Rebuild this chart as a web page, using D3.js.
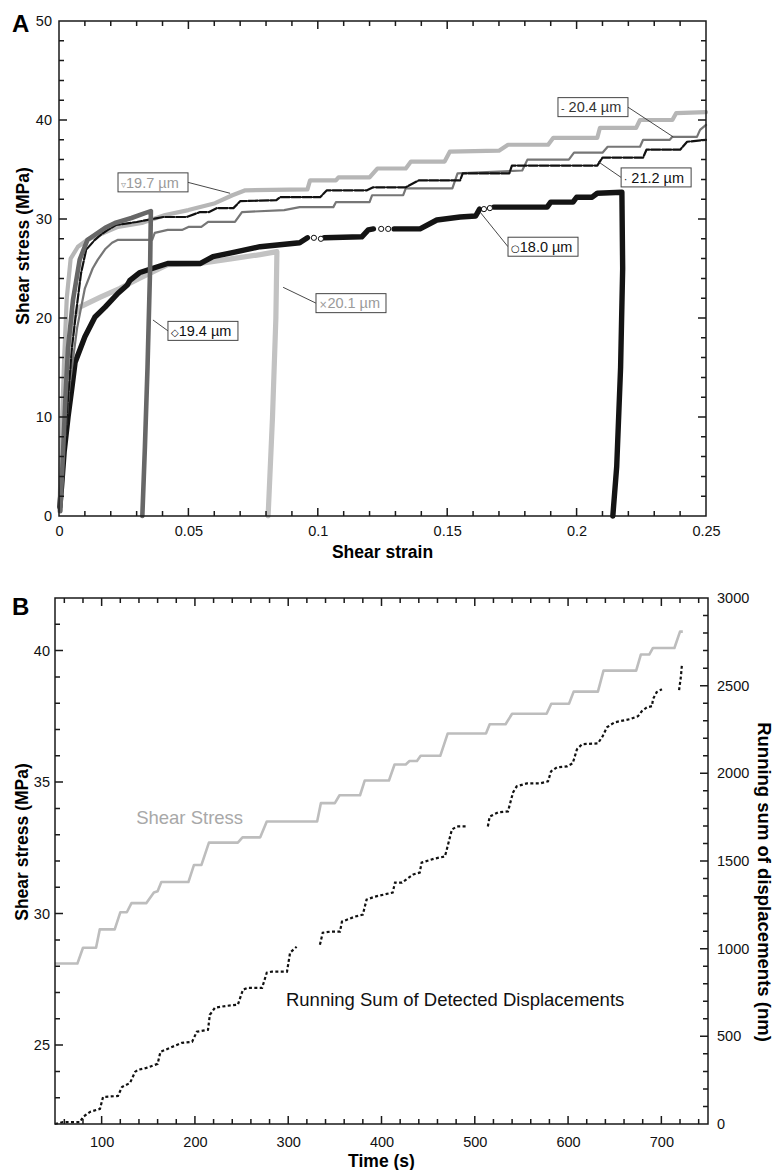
<!DOCTYPE html>
<html>
<head>
<meta charset="utf-8">
<script src="https://cdn.jsdelivr.net/npm/d3@7"></script>
<style>
  body { margin: 0; background: #fff; }
  svg { display: block; font-family: "Liberation Sans", Arial, Helvetica, sans-serif; }
</style>
</head>
<body>
<svg id="chart" width="774" height="1170"></svg>
<script>
// ---------- Panel A : shear stress vs shear strain, one series per grain size ----------
var strainTicks = [0, 0.05, 0.1, 0.15, 0.2, 0.25];
var stressTicksA = [0, 10, 20, 30, 40, 50];

// [strain, stress MPa]; null = gap in the record
var grain180 = [[0.0003,0.9],[0.001,3],[0.002,6.5],[0.0035,10],[0.005,13],[0.0062,15.5],[0.010,18.1],[0.0139,20.1],[0.0178,21.1],[0.0228,22.5],[0.0263,23.3],[0.0274,23.8],[0.0313,24.6],[0.036,25.0],[0.042,25.5],[0.0545,25.5],[0.0595,26.2],[0.067,26.6],[0.0777,27.2],[0.093,27.6],[0.096,28.1],null,[0.1025,28.1],[0.117,28.2],[0.1195,28.9],[0.1215,29.0],null,[0.1295,29.0],[0.1395,29.0],[0.146,29.9],[0.155,30.2],[0.161,30.3],[0.1625,31.0],null,[0.168,31.2],[0.1886,31.2],[0.190,31.7],[0.1986,31.7],[0.200,32.2],[0.206,32.2],[0.208,32.6],[0.2175,32.7],[0.2178,25],[0.217,15],[0.2155,5],[0.214,0]];
var grain180Open = [[0.0985,28.1],[0.1012,28.0],[0.1245,29.0],[0.1272,29.0],[0.1642,31.0],[0.1665,31.1]];
var grain194 = [[0.0005,0.5],[0.0015,6],[0.0025,12],[0.0035,17],[0.0054,21.8],[0.0080,25.9],[0.011,27.9],[0.0178,29.1],[0.0216,29.6],[0.028,30.1],[0.0332,30.6],[0.0355,30.8],[0.0352,25],[0.0342,15],[0.0332,7],[0.0322,0]];
var grain197 = [[0.0003,0.5],[0.001,8],[0.002,16],[0.003,22],[0.0045,26],[0.0073,27.2],[0.011,27.9],[0.0228,29.2],[0.032,29.6],[0.041,30.4],[0.050,30.9],[0.0603,31.6],[0.067,32.4],[0.072,32.9],[0.096,33.0],[0.097,33.9],[0.107,33.9],[0.108,34.2],[0.120,34.2],[0.123,35.1],[0.134,35.1],[0.136,35.8],[0.149,35.8],[0.151,36.8],[0.170,36.9],[0.1735,37.5],[0.189,37.5],[0.191,38.2],[0.208,38.2],[0.209,39.2],[0.223,39.2],[0.2245,40.0],[0.237,40.0],[0.2385,40.7],[0.25,40.8]];
var grain201 = [[0.0003,0.5],[0.001,6],[0.002,12],[0.0035,17],[0.0055,20],[0.008,21.1],[0.016,22.1],[0.0236,23.0],[0.031,24.0],[0.042,25.4],[0.0545,25.5],[0.067,26.0],[0.0777,26.4],[0.0842,26.7],[0.0838,20],[0.0825,10],[0.0808,0]];
var grain204 = [[0.0005,0.5],[0.002,7],[0.004,13],[0.007,19],[0.010,23],[0.013,25],[0.015,25.9],[0.018,27.0],[0.0205,27.6],[0.0228,27.9],[0.036,27.9],[0.037,28.6],[0.042,28.9],[0.0475,28.9],[0.050,29.2],[0.055,29.2],[0.0576,29.7],[0.068,29.7],[0.0707,30.7],[0.087,30.9],[0.093,31.2],[0.106,31.2],[0.107,31.7],[0.120,31.7],[0.121,32.4],[0.133,32.4],[0.134,33.1],[0.152,33.1],[0.154,34.6],[0.179,34.9],[0.181,36.0],[0.197,36.0],[0.199,36.7],[0.210,36.7],[0.212,37.3],[0.2245,37.3],[0.2257,38.0],[0.236,38.0],[0.237,38.3],[0.2465,38.3],[0.2477,39.0],[0.25,39.5]];
var grain212 = [[0.0005,0.5],[0.002,6],[0.0035,12],[0.005,17],[0.0068,21],[0.0085,24.5],[0.0105,26.9],[0.0139,27.9],[0.0166,28.5],[0.0189,28.9],[0.022,29.4],[0.030,29.7],[0.0403,30.2],[0.0493,30.2],[0.0545,30.7],[0.058,30.7],[0.061,31.1],[0.0674,31.1],[0.070,31.8],[0.084,31.9],[0.0854,32.2],[0.1009,32.2],[0.1035,32.9],[0.119,32.9],[0.1214,33.2],[0.134,33.2],[0.139,33.9],[0.155,33.9],[0.156,34.6],[0.174,34.6],[0.175,35.4],[0.208,35.4],[0.210,36.2],[0.2257,36.2],[0.227,37.0],[0.240,37.0],[0.2427,37.8],[0.25,38.0]];

// ---------- Panel B : shear stress and running sum of displacements vs time ----------
var timeTicks = [100, 200, 300, 400, 500, 600, 700];
var stressTicksB = [25, 30, 35, 40];
var sumTicks = [0, 500, 1000, 1500, 2000, 2500, 3000];

// [time s, stress MPa]
var stressHistory = [[50,28.1],[74,28.1],[80,28.7],[94,28.7],[98,29.4],[114,29.4],[120,30.05],[127,30.05],[132,30.4],[148,30.4],[156,30.8],[160,30.85],[164,31.2],[193,31.2],[199,31.85],[207,31.85],[215,32.7],[246,32.7],[251,32.9],[270,32.9],[277,33.5],[331,33.5],[335,34.2],[350,34.2],[355,34.5],[377,34.5],[382,35.06],[408,35.06],[414,35.67],[426,35.67],[430,35.8],[438,35.8],[442,36.0],[463,36.0],[471,36.85],[512,36.85],[516,37.2],[533,37.2],[540,37.6],[577,37.6],[582,37.98],[601,37.98],[606,38.44],[632,38.44],[638,39.24],[673,39.24],[678,39.85],[687,39.85],[691,40.1],[714,40.1],[720,40.72],[723,40.72]];

// [time s, running sum nm]; null = no detections
var runningSum = [[50,0],[58.6,11],[76.8,11],[80,40],[87.5,69],[98.2,86],[101.5,154],[117.5,160],[121.8,211],[130.4,234],[135.8,297],[139,309],[148,320],[160,343],[163,411],[173,434],[186,463],[197,469],[202,526],[214,537],[216,623],[221.5,663],[234,674],[246,680],[251.5,766],[257,777],[272,776],[277,863],[282.6,869],[298.7,869],[302,977],[309,1011],null,[334,1023],[337,1091],[345,1097],[355.5,1097],[357.6,1154],[371.6,1183],[380,1194],[384,1280],[393,1297],[412,1320],[414.5,1377],[422,1377],[434,1423],[441,1434],[443,1491],[457,1514],[468,1526],[470,1566],[475.5,1680],[481,1697],[491.6,1697],null,[514,1697],[516,1754],[525,1777],[535.6,1783],[541,1891],[545,1926],[556,1943],[570,1943],[578.5,1954],[581.7,2011],[588,2034],[599,2040],[605,2057],[609.5,2137],[615,2166],[632,2171],[637,2211],[641.7,2263],[650,2291],[666,2309],[675,2326],[679,2354],[684.6,2377],[690,2383],[691,2423],[695,2463],[700.6,2480],null,[719,2474],[721,2554],[722,2617]];

var svg = d3.select("#chart");
var gA = svg.append("g");
var gB = svg.append("g");
var gFrame = svg.append("g");   // frames and ticks go on top of everything

// tick labels through d3 axes (no tick lines, no domain)
function labels(g, axis, pos, values, pad) {
    var a = g.append("g")
        .attr("transform", pos)
        .call(axis.tickValues(values).tickSize(0).tickPadding(pad)
            .tickFormat(function(d) { return String(d); }));
    a.select(".domain").remove();
    a.selectAll(".tick text").attr("font-size", 14.5).attr("fill", "#111");
}

// closed frame with inward ticks on all four sides, drawn as one path
function frame(box, x, yL, yR, o) {
    var p = d3.path();
    function horiz(vals, len, y0, dir) {
        vals.forEach(function(v) { p.moveTo(x(v), y0); p.lineTo(x(v), y0 + dir * len); });
    }
    function vert(scale, vals, len, x0, dir) {
        vals.forEach(function(v) { p.moveTo(x0, scale(v)); p.lineTo(x0 + dir * len, scale(v)); });
    }
    horiz(o.xMajor, 8, box.bottom, -1);
    horiz(o.xMinor, 5, box.bottom, -1);
    horiz(o.xMajor, 8, box.top, 1);
    horiz(o.xMinor, 5, box.top, 1);
    vert(yL, o.yMajor, 8, box.left, 1);
    vert(yL, o.yMinor, 5, box.left, 1);
    vert(yR, o.rMajor, 8, box.right, -1);
    vert(yR, o.rMinor, 5, box.right, -1);
    p.rect(box.left, box.top, box.right - box.left, box.bottom - box.top);
    gFrame.append("path")
        .attr("d", p.toString())
        .attr("fill", "none")
        .attr("stroke", "#1a1a1a")
        .attr("stroke-width", 1.5);
    labels(gFrame, d3.axisBottom(x), "translate(0," + box.bottom + ")", o.xMajor, o.xPad);
    labels(gFrame, d3.axisLeft(yL), "translate(" + box.left + ",0)", o.yMajor, o.yPad);
    if (o.rLabels) labels(gFrame, d3.axisRight(yR), "translate(" + box.right + ",0)", o.rMajor, o.rPad);
}

// ================= Panel A =================
var A = {left: 59, top: 21, right: 706, bottom: 516};
var xA = d3.scaleLinear().domain([0, 0.25]).range([A.left, A.right]);
var yA = d3.scaleLinear().domain([0, 50]).range([A.bottom, A.top]);

var lineA = d3.line().defined(function(d) { return d != null; })
    .x(function(d) { return xA(d[0]); })
    .y(function(d) { return yA(d[1]); });

var seriesA = [
    {data: grain201, color: "#c2c2c2", width: 5.2},
    {data: grain180, color: "#141414", width: 5.4},
    {data: grain197, color: "#b6b6b6", width: 4.2},
    {data: grain204, color: "#767676", width: 2.2},
    {data: grain212, color: "#111", width: 2.2, dash: "9 2"},
    {data: grain194, color: "#676767", width: 4.6}
];
seriesA.forEach(function(s) {
    gA.append("path")
        .attr("d", lineA(s.data))
        .attr("fill", "none")
        .attr("stroke", s.color)
        .attr("stroke-width", s.width)
        .attr("stroke-linejoin", "round")
        .attr("stroke-linecap", "round")
        .attr("stroke-dasharray", s.dash || null);
});

gA.selectAll("circle.open").data(grain180Open).enter().append("circle")
    .attr("class", "open")
    .attr("cx", function(d) { return xA(d[0]); })
    .attr("cy", function(d) { return yA(d[1]); })
    .attr("r", 2.6)
    .attr("fill", "#fff").attr("stroke", "#111").attr("stroke-width", 1);

frame(A, xA, yA, yA, {
    xMajor: strainTicks, xMinor: d3.range(0, 0.2501, 0.01), xPad: 10,
    yMajor: stressTicksA, yMinor: d3.range(0, 50.1, 2), yPad: 7,
    rMajor: stressTicksA, rMinor: d3.range(0, 50.1, 2)
});

// labelled boxes with leader lines
var boxesA = [
    {sym: "\u25BF", text: "19.7 \u00B5m", color: "#9a9a9a", edge: [0.0228, 33.7], from: "right", target: [0.0661, 32.6]},
    {sym: "-", text: " 20.4 \u00B5m", color: "#333", edge: [0.1928, 41.3], from: "right", target: [0.2373, 38.3]},
    {sym: "\u00B7", text: " 21.2 \u00B5m", color: "#111", edge: [0.2172, 34.2], from: "left", target: [0.2083, 35.8]},
    {sym: "\u25CB", text: "18.0 \u00B5m", color: "#111", edge: [0.1735, 27.2], from: "left", target: [0.1627, 30.7]},
    {sym: "\u25C7", text: "19.4 \u00B5m", color: "#111", edge: [0.0421, 18.7], from: "left", target: [0.0363, 19.8]},
    {sym: "\u00D7", text: "20.1 \u00B5m", color: "#9a9a9a", edge: [0.0993, 21.5], from: "left", target: [0.0866, 23.1]}
];
boxesA.forEach(function(b) {
    var bx = xA(b.edge[0]), by = yA(b.edge[1]), w = 70, h = 19;
    var sx = b.from === "right" ? bx + w : bx;
    gA.append("line")
        .attr("x1", sx).attr("y1", by)
        .attr("x2", xA(b.target[0])).attr("y2", yA(b.target[1]))
        .attr("stroke", "#333").attr("stroke-width", 0.9);
    gA.append("rect")
        .attr("x", bx).attr("y", by - h / 2).attr("width", w).attr("height", h)
        .attr("fill", "#fff").attr("stroke", "#444").attr("stroke-width", 1);
    var t = gA.append("text")
        .attr("x", bx + 3).attr("y", by + 5.3)
        .attr("font-size", 14.5).attr("fill", b.color);
    t.append("tspan").attr("font-size", 10).attr("font-family", "DejaVu Sans").text(b.sym);
    t.append("tspan").text(b.text);
});

gA.append("text").attr("x", 12).attr("y", 32)
    .attr("font-size", 24).attr("font-weight", "bold").text("A");
gA.append("text")
    .attr("x", (A.left + A.right) / 2).attr("y", 558)
    .attr("text-anchor", "middle").attr("font-size", 17.5).attr("font-weight", "bold")
    .text("Shear strain");
gA.append("text")
    .attr("transform", "translate(29,246) rotate(-90)")
    .attr("text-anchor", "middle").attr("font-size", 17.5).attr("font-weight", "bold")
    .text("Shear stress (MPa)");

// ================= Panel B =================
var B = {left: 55, top: 598, right: 708, bottom: 1124};
var xB = d3.scaleLinear().domain([50, 750]).range([B.left, B.right]);
var yB = d3.scaleLinear().domain([22, 42]).range([B.bottom, B.top]);
var yBR = d3.scaleLinear().domain([0, 3000]).range([B.bottom, B.top]);

gB.append("path")
    .attr("d", d3.line()
        .x(function(d) { return xB(d[0]); })
        .y(function(d) { return yB(d[1]); })(stressHistory))
    .attr("fill", "none").attr("stroke", "#bdbdbd").attr("stroke-width", 2.6)
    .attr("stroke-linejoin", "round");

gB.append("path")
    .attr("d", d3.line().defined(function(d) { return d != null; })
        .x(function(d) { return xB(d[0]); })
        .y(function(d) { return yBR(d[1]); })(runningSum))
    .attr("fill", "none").attr("stroke", "#111").attr("stroke-width", 2.2)
    .attr("stroke-dasharray", "3 2.4");

frame(B, xB, yB, yBR, {
    xMajor: timeTicks, xMinor: d3.range(60, 741, 20), xPad: 13,
    yMajor: stressTicksB, yMinor: d3.range(22, 42.1, 1), yPad: 5,
    rMajor: sumTicks, rMinor: d3.range(0, 3001, 100), rPad: 9, rLabels: true
});

gB.append("text")
    .attr("x", xB(137)).attr("y", yB(33.4))
    .attr("font-size", 18.5).attr("fill", "#a8a8a8")
    .text("Shear Stress");
gB.append("text")
    .attr("x", xB(297.6)).attr("y", yBR(674))
    .attr("font-size", 18.5).attr("fill", "#111")
    .text("Running Sum of Detected Displacements");

gB.append("text").attr("x", 12).attr("y", 615)
    .attr("font-size", 24).attr("font-weight", "bold").text("B");
gB.append("text")
    .attr("x", (B.left + B.right) / 2).attr("y", 1167)
    .attr("text-anchor", "middle").attr("font-size", 17.5).attr("font-weight", "bold")
    .text("Time (s)");
gB.append("text")
    .attr("transform", "translate(28,842) rotate(-90)")
    .attr("text-anchor", "middle").attr("font-size", 17.5).attr("font-weight", "bold")
    .text("Shear stress (MPa)");
gB.append("text")
    .attr("transform", "translate(758,882) rotate(90)")
    .attr("text-anchor", "middle").attr("font-size", 18.5).attr("font-weight", "bold")
    .text("Running sum of displacements (nm)");
</script>
</body>
</html>
